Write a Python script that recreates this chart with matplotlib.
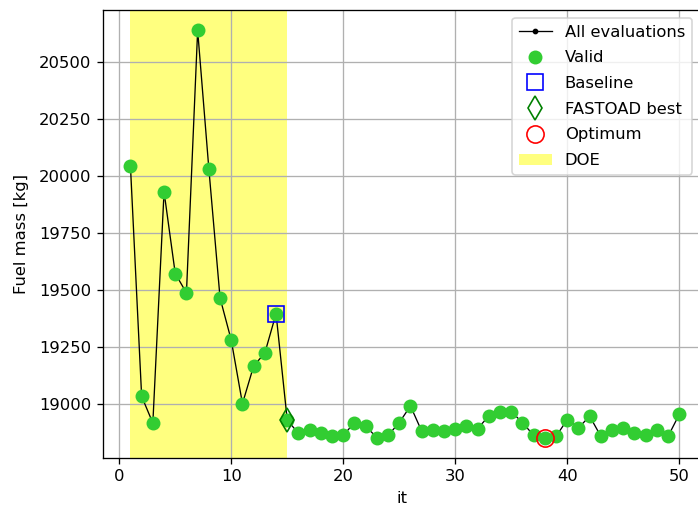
import numpy as np
import matplotlib.pyplot as plt

iterations = list(range(1, 51))
fuel_mass = [20044, 19035, 18918, 19931, 19573, 19488, 20638, 20032, 19466, 19281,
             19003, 19168, 19225, 19397, 18931, 18873, 18886, 18873, 18860, 18864,
             18920, 18905, 18854, 18864, 18920, 18993, 18883, 18886, 18882, 18890,
             18905, 18894, 18949, 18968, 18968, 18920, 18864, 18854, 18860, 18933,
             18897, 18948, 18860, 18886, 18897, 18876, 18865, 18886, 18860, 18956]
baseline_it = 14
fastoad_it = 15
optimum_it = 38
doe_range = (1, 15)

dpi = 118
fig = plt.figure(figsize=(698 / dpi, 510 / dpi), dpi=dpi)
ax = fig.add_axes([103 / 698, 1 - 458 / 510, 597 / 698, 448 / 510])

ax.plot(iterations, fuel_mass, '.-', color='k', lw=0.8, ms=5, label='All evaluations')
ax.plot(iterations, fuel_mass, 'o', color='limegreen', ms=7.5, ls='none', label='Valid')
ax.plot(baseline_it, fuel_mass[baseline_it - 1], 's', mfc='none', mec='b', ms=10,
        ls='none', label='Baseline')
ax.plot(fastoad_it, fuel_mass[fastoad_it - 1], 'd', mfc='none', mec='g', ms=10.5,
        ls='none', label='FASTOAD best')
ax.plot(optimum_it, fuel_mass[optimum_it - 1], 'o', mfc='none', mec='r', ms=10.5,
        ls='none', label='Optimum')
ax.axvspan(doe_range[0], doe_range[1], color='yellow', alpha=0.5, lw=0, label='DOE')

ax.set_xlim(-1.45, 51.85)
ax.set_ylim(18765, 20727)
ax.set_yticks(np.arange(19000, 20501, 250))
ax.grid(True)
ax.set_xlabel('it')
ax.set_ylabel('Fuel mass [kg]', labelpad=6)
ax.legend(loc='upper right', labelspacing=0.65)

fig.savefig('out.png', dpi=dpi)
